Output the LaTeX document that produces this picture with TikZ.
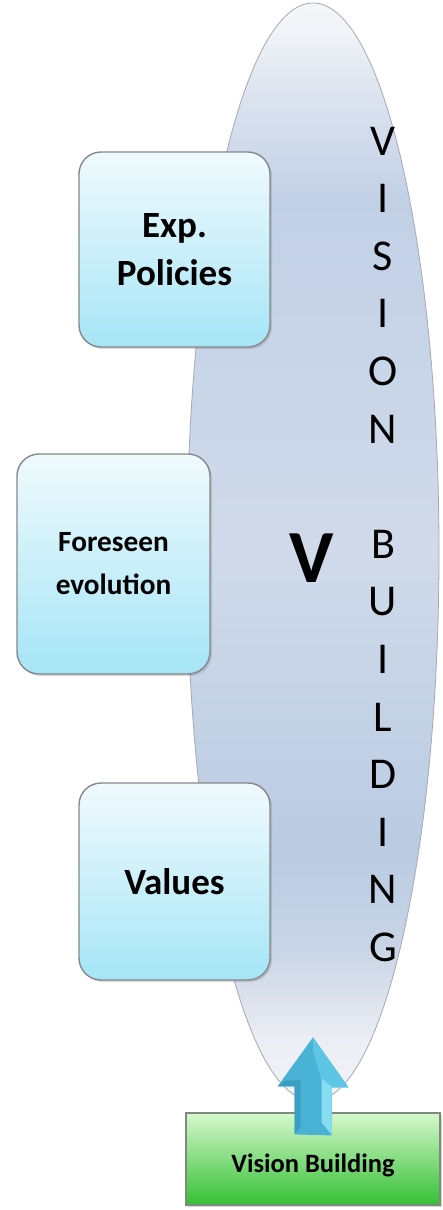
\documentclass[tikz,border=0pt]{standalone}
\usepackage{fontspec}
\setmainfont{Carlito}
\usetikzlibrary{shapes.geometric,shadows,calc}

% colours
\definecolor{ellEdge}{HTML}{A4A9B4}
\definecolor{eA}{HTML}{F2F3F7}
\definecolor{eA2}{HTML}{EBEEF4}
\definecolor{eB}{HTML}{DDE2EC}
\definecolor{eB2}{HTML}{C9D5E6}
\definecolor{eC}{HTML}{BACBE2}
\definecolor{eD}{HTML}{D0DAEA}
\definecolor{eE}{HTML}{C2D0E6}
\definecolor{eE2}{HTML}{D6DFED}
\definecolor{eF}{HTML}{E6EBF3}
\definecolor{eF2}{HTML}{F2F4F8}
\definecolor{eG}{HTML}{F5F6FA}
\definecolor{boxEdge}{HTML}{85888C}
\definecolor{boxTop}{HTML}{F0FAFD}
\definecolor{boxMid}{HTML}{CDEFF8}
\definecolor{boxBot}{HTML}{A6E5F6}
\definecolor{grnTop}{HTML}{D6F8CD}
\definecolor{grnMid}{HTML}{79E273}
\definecolor{grnBot}{HTML}{34C034}
\definecolor{grnEdge}{HTML}{7F8A7F}
\definecolor{arrBase}{HTML}{4AB2D4}
\definecolor{arrDark}{HTML}{3A9EC2}
\definecolor{arrLight}{HTML}{86DCF2}
\definecolor{arrMid}{HTML}{5EC6E5}

% the tall ellipse: light at both ends, bluer in between (bottom to top)
\pgfdeclareverticalshading{visionfill}{100bp}{%
  color(0bp)=(eA); color(25bp)=(eA); color(27.8bp)=(eA2);
  color(29.6bp)=(eB); color(31.9bp)=(eB2); color(36.4bp)=(eC);
  color(50bp)=(eD); color(66bp)=(eE); color(69.7bp)=(eE2);
  color(72.4bp)=(eF); color(73.8bp)=(eF2); color(75bp)=(eG);
  color(100bp)=(eG)}

\tikzset{
  visionshape/.style={ellipse, draw=ellEdge, line width=0.8pt, shade,
    shading=visionfill, inner sep=0pt,
    minimum width=252pt, minimum height=1098pt},
  infobox/.style={rectangle, rounded corners=22pt, draw=boxEdge,
    line width=1.4pt, top color=boxTop, middle color=boxMid,
    bottom color=boxBot, align=center, inner sep=0pt,
    drop shadow={shadow xshift=2pt, shadow yshift=-2pt, opacity=0.3},
    font=\bfseries\fontsize{37}{48}\selectfont},
  buildbox/.style={rectangle, draw=grnEdge, line width=1.2pt,
    top color=grnTop, middle color=grnMid, bottom color=grnBot,
    inner sep=0pt, minimum width=254pt, minimum height=92pt,
    text height=26pt, text depth=0pt,
    drop shadow={shadow xshift=2pt, shadow yshift=-2pt, opacity=0.3},
    font=\bfseries\fontsize{26.5}{30}\selectfont},
  spine/.style={anchor=base, font=\fontsize{44}{50}\selectfont},
  bigletter/.style={anchor=base, font=\bfseries\fontsize{75}{80}\selectfont}
}

\begin{document}
\begin{tikzpicture}[x=1pt, y=-1pt]
  \useasboundingbox[fill=white] (0,0) rectangle (443,1210);

  % vision ellipse
  \node[visionshape] (vision) at (313,552) {};

  % input boxes
  \node[infobox, minimum width=191pt, minimum height=195pt]
    (policies) at (174.5,249.5) {Exp.\\Policies};
  \node[infobox, minimum width=193pt, minimum height=220pt,
        font=\bfseries\fontsize{29.3}{43}\selectfont]
    (foreseen) at (113.5,564) {Foreseen\\evolution};
  \node[infobox, minimum width=191pt, minimum height=197pt]
    (values) at (174.5,881.5) {Values};

  % large letter in the ellipse
  \node[bigletter] (bigv) at (312,582) {V};

  % vertical caption
  \foreach \ch/\k in {V/0,I/1,S/2,I/3,O/4,N/5,B/7,U/8,I/9,L/10,D/11,I/12,N/13,G/14}
    \node[spine] (spine\k) at (383,{155+57.6*\k}) {\ch};

  % source box
  \node[buildbox] (build) at (313,1159) {Vision Building};

  % block arrow from the source box into the ellipse
  \coordinate (arrowtail) at ($(build.north)+(0,22)$);
  \coordinate (arrowtip) at ($(vision.south)+(0,-64)$);
  \fill[arrBase] (arrowtail) ++(-18.5,0) -- ++(0,-48) -- ++(-17,0)
    -- (arrowtip) -- ++(35.5,50) -- ++(-17,0) -- ++(0,48) -- cycle;
  % bevel faces
  \fill[arrMid] (arrowtip) -- ++(35.5,50) -- ++(-17,0) -- ++(-10,-8)
    -- ($(arrowtip)+(0,14)$) -- cycle;
  \fill[arrLight] (arrowtail) ++(18.5,0) -- ++(0,-48) -- ++(-10,-8)
    -- ++(0,44) -- cycle;
  \fill[arrDark] (arrowtail) ++(-18.5,0) -- ++(0,-48) -- ++(-17,0)
    -- ++(8,-6) -- ++(15,0) -- ++(0,46) -- cycle;
\end{tikzpicture}
\end{document}
